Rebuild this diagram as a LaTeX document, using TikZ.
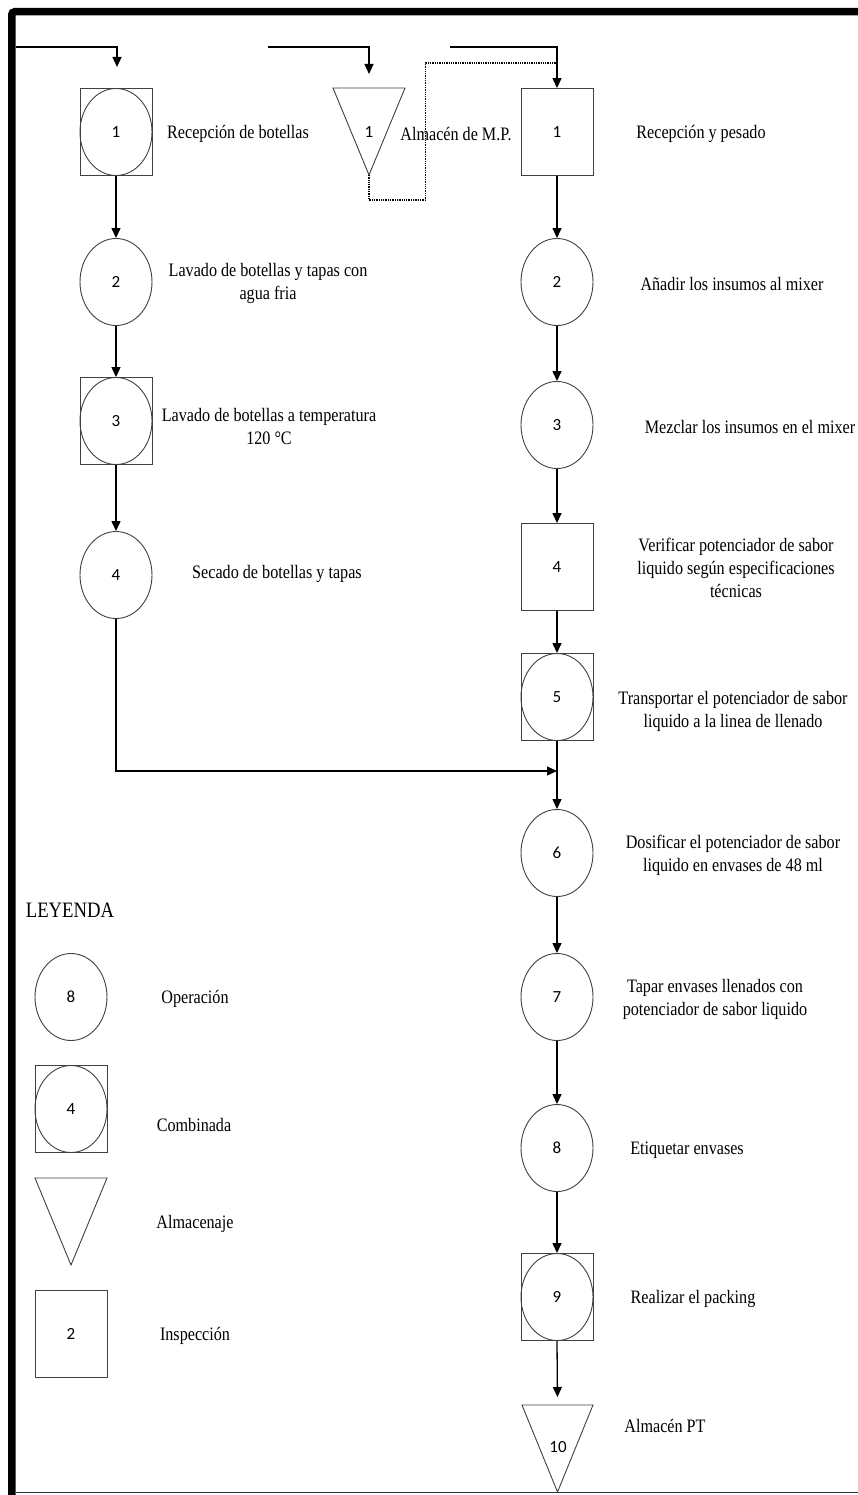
\documentclass[tikz,border=0pt]{standalone}
\usepackage{fontspec}
\setmainfont{Liberation Serif}[FakeStretch=0.85]
\newfontfamily\numfont{Carlito}
\usetikzlibrary{arrows.meta,shapes.geometric}
\begin{document}
\begin{tikzpicture}[x=1pt,y=-1pt,
  conn/.style={draw=black, line width=1.3pt},
  arr/.style={conn,-{Triangle[length=10pt,width=9pt]}},
  dotconn/.style={draw=black, line width=1.3pt, densely dotted},
  shapeline/.style={draw=black!75, line width=0.9pt},
  opnode/.style={ellipse, shapeline, minimum width=72pt, minimum height=87pt, inner sep=0pt, font=\numfont\fontsize{17}{20}\selectfont},
  boxnode/.style={rectangle, shapeline, minimum width=72pt, minimum height=87pt, inner sep=0pt, font=\numfont\fontsize{17}{20}\selectfont},
  numlbl/.style={inner sep=0pt, font=\numfont\fontsize{17}{20}\selectfont},
  lbl/.style={align=center, inner sep=0pt, font=\fontsize{19}{23}\selectfont}
]
\useasboundingbox (0,0) rectangle (858,1495);
\clip (0,0) rectangle (858,1495);
% frame
\draw[line width=7.5pt, rounded corners=3pt] (11.75,1510) -- (11.75,11.75) -- (870,11.75);
\draw[draw=black!80, line width=1.5pt] (16,1492.5) -- (870,1492.5);

% ---------------- left column
\node[opnode] (c1) at (116,132) {1};
\node[boxnode] (c1b) at (c1) {};
\node[lbl] (c1t) at (238,134) {Recepción de botellas};

\node[opnode] (o2) at (116,282) {2};
\node[lbl] (o2t) at (268,283) {Lavado de botellas y tapas con\\agua fria};

\node[opnode] (c3) at (116,421) {3};
\node[boxnode] (c3b) at (c3) {};
\node[lbl] (c3t) at (269,426) {Lavado de botellas a temperatura\\120 °C};

\node[opnode] (o4) at (116,575) {4};
\node[lbl] (o4t) at (277,574) {Secado de botellas y tapas};

% ---------------- storage 1
\draw[shapeline] (333,88) -- (405,88) -- (369,175) -- cycle;
\coordinate (t1top) at (369,88);
\coordinate (t1apex) at (369,175);
\node[numlbl] (t1) at (369,132) {1};
\node[lbl] (t1t) at (456,134) {Almacén de M.P.};

% ---------------- right column
\node[boxnode] (i1) at (557,132) {1};
\node[lbl] (i1t) at (701,134) {Recepción y pesado};

\node[opnode] (r2) at (557,282) {2};
\node[lbl] (r2t) at (732,284) {Añadir los insumos al mixer};

\node[opnode] (r3) at (557,425) {3};
\node[lbl] (r3t) at (750,427) {Mezclar los insumos en el mixer};

\node[boxnode] (r4) at (557,567) {4};
\node[lbl] (r4t) at (736,568) {Verificar potenciador de sabor\\liquido según especificaciones\\técnicas};

\node[opnode] (r5) at (557,697) {5};
\node[boxnode] (r5b) at (r5) {};
\node[lbl] (r5t) at (733,711) {Transportar el potenciador de sabor\\liquido a la linea de llenado};

\node[opnode] (r6) at (557,853) {6};
\node[lbl] (r6t) at (733,855) {Dosificar el potenciador de sabor\\liquido en envases de 48 ml};

\node[opnode] (r7) at (557,997) {7};
\node[lbl] (r7t) at (715,999) {Tapar envases llenados con\\potenciador de sabor liquido};

\node[opnode] (r8) at (557,1148) {8};
\node[lbl] (r8t) at (687,1150) {Etiquetar envases};

\node[opnode] (r9) at (557,1297) {9};
\node[boxnode] (r9b) at (r9) {};
\node[lbl] (r9t) at (693,1299) {Realizar el packing};

\draw[shapeline] (522,1405) -- (593,1405) -- (557.5,1492) -- cycle;
\coordinate (t10top) at (557.5,1405);
\node[numlbl] (t10) at (558,1447) {10};
\node[lbl] (t10t) at (665,1426) {Almacén PT};

% ---------------- legend
\node[inner sep=0pt, font=\fontsize{22}{26}\selectfont] (ley) at (70,910) {LEYENDA};
\node[opnode] (l1) at (71,997) {8};
\node[lbl] (l1t) at (195,999) {Operación};
\node[opnode] (l2) at (71,1109) {4};
\node[boxnode] (l2b) at (l2) {};
\node[lbl] (l2t) at (194,1125) {Combinada};
\draw[shapeline] (35,1178) -- (107,1178) -- (71,1265) -- cycle;
\node[lbl] (l3t) at (195,1224) {Almacenaje};
\node[boxnode] (l4) at (71,1334) {2};
\node[lbl] (l4t) at (195,1336) {Inspección};

% ---------------- connectors
\coordinate (in1s) at (16,47);
\coordinate (in1e) at (117,67);
\draw[arr] (in1s) -| (in1e);
\coordinate (in2s) at (268,47);
\coordinate (in2e) at (369,74);
\draw[arr] (in2s) -| (in2e);
\coordinate (in3s) at (450,47);
\draw[arr] (in3s) -| (i1.north);
\coordinate (d1) at (369,200);
\coordinate (d2) at (425.5,200);
\coordinate (d3) at (425.5,63);
\coordinate (d4) at (557,63);
\draw[dotconn] (t1apex) -- (d1) -- (d2) -- (d3) -- (d4);

\draw[arr] (c1.south) -- (o2.north);
\draw[arr] (o2.south) -- (c3.north);
\draw[arr] (c3.south) -- (o4.north);
\coordinate (m1) at (116,771);
\coordinate (m2) at (557,771);
\draw[arr] (o4.south) -- (m1) -- (m2);

\draw[arr] (i1.south) -- (r2.north);
\draw[arr] (r2.south) -- (r3.north);
\draw[arr] (r3.south) -- (r4.north);
\draw[arr] (r4.south) -- (r5.north);
\draw[arr] (r5.south) -- (r6.north);
\draw[arr] (r6.south) -- (r7.north);
\draw[arr] (r7.south) -- (r8.north);
\draw[arr] (r8.south) -- (r9.north);
\draw[arr, shorten >=8pt] (r9.south) -- (t10top);
\end{tikzpicture}
\end{document}
